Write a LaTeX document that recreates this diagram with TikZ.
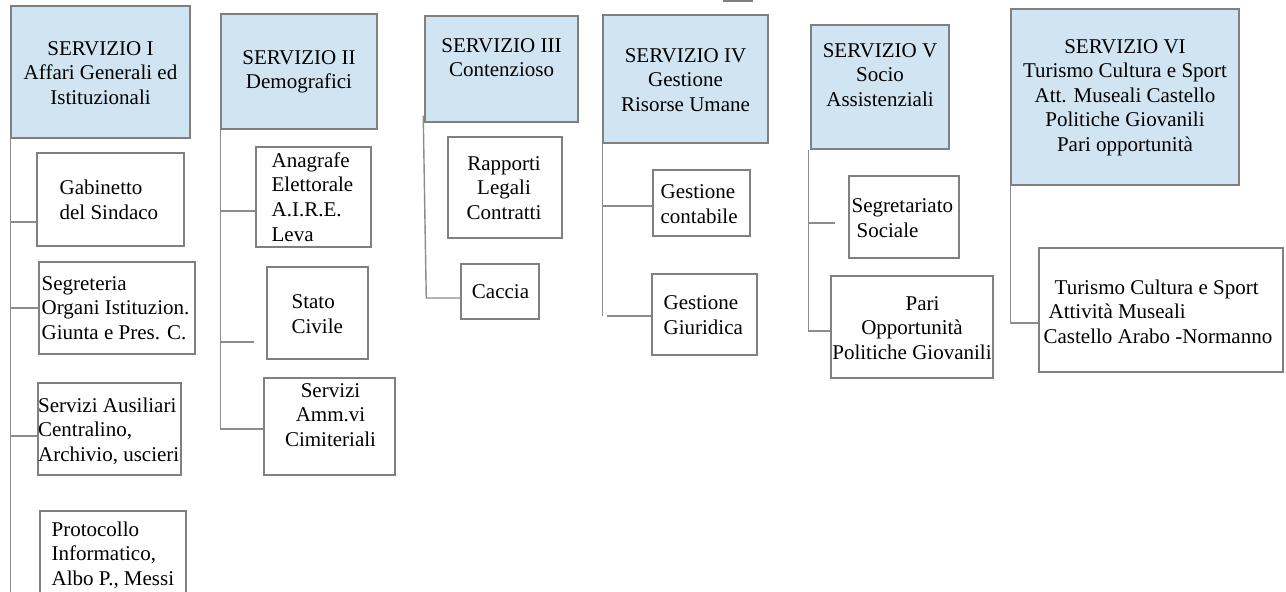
\documentclass[tikz,border=0pt]{standalone}
\usepackage{fontspec}
\setmainfont{Liberation Serif}
\usepackage{tikz}
\usetikzlibrary{calc,positioning}
\definecolor{celeste}{RGB}{208,228,242}
\definecolor{bordo}{RGB}{128,128,128}
\definecolor{filo}{RGB}{140,140,140}
\newcommand{\ramo}[4][0]{%
    \draw[linea] ($(#2.south west |- #3.west)+(0,#4)$) -- ($(#3.west)+(-#1,#4)$);
}

\begin{document}
\begin{tikzpicture}[
            x=0.5pt, y=-0.5pt,
            dim/.style 2 args = {minimum width=#1*0.5pt, minimum height=#2*0.5pt},
            casella/.style = {draw=bordo, line width=0.75pt, inner sep=0pt},
            capo/.style = {casella, fill=celeste},
            figlio/.style = {casella, fill=white},
            testo/.style = {inner sep=0pt, align=center,
                font=\fontsize{10.5}{12.3}\selectfont},
            linea/.style = {draw=filo, line width=0.7pt},
        ]
            \clip (0,0) rectangle (1286,592);
            \coordinate (fondo) at (0,592);
            % servizi
            \node[capo, dim={179}{132}] (s1) at (100.5,72) {};
            \node[testo] (s1-t) at ([shift={(0,1)}]s1.center) {SERVIZIO I\\Affari Generali ed\\Istituzionali};
            \node[capo, dim={156}{115}] (s2) at (299,71.5) {};
            \node[testo] (s2-t) at ([shift={(0,0.5)}]s2.center) {SERVIZIO II\\Demografici};
            \node[capo, dim={153}{106}] (s3) at (501.5,69) {};
            \node[testo] (s3-t) at ([shift={(0,-11.5)}]s3.center) {SERVIZIO III\\Contenzioso};
            \node[capo, dim={165}{128}] (s4) at (685.5,79) {};
            \node[testo] (s4-t) at ([shift={(0,1)}]s4.center) {SERVIZIO IV\\Gestione\\Risorse Umane};
            \node[capo, dim={138}{124}] (s5) at (880,87) {};
            \node[testo] (s5-t) at ([shift={(0,-12)}]s5.center) {SERVIZIO V\\Socio\\Assistenziali};
            \node[capo, dim={228}{176}] (s6) at (1125,97) {};
            \node[testo] (s6-t) at ([shift={(0,0.5)}]s6.center) {SERVIZIO VI\\Turismo Cultura e Sport\\Att. Museali Castello\\Politiche Giovanili\\Pari opportunità};
            % uffici
            \node[figlio, dim={147}{93}] (gab) at (110.5,199.5) {};
            \node[testo, align=left, anchor=west] (gab-t) at ([shift={(23,0.5)}]gab.west) {Gabinetto\\del Sindaco};
            \node[figlio, dim={156}{92}] (seg) at (117,308) {};
            \node[testo, align=left, anchor=west] (seg-t) at ([shift={(3,0)}]seg.west) {Segreteria\\Organi Istituzion.\\Giunta e Pres. C.};
            \node[figlio, dim={143}{92}] (aus) at (109.5,429) {};
            \node[testo, align=left, anchor=west] (aus-t) at ([shift={(0.5,2)}]aus.west) {Servizi Ausiliari\\Centralino,\\Archivio, uscieri};
            \node[figlio, dim={146}{88}] (prot) at (113,555) {};
            \node[testo, align=left, anchor=west] (prot-t) at ([shift={(12,0)}]prot.west) {Protocollo\\Informatico,\\Albo P., Messi};
            \node[figlio, dim={115}{100}] (ana) at (313.5,197) {};
            \node[testo, align=left, anchor=west] (ana-t) at ([shift={(16,0)}]ana.west) {Anagrafe\\Elettorale\\A.I.R.E.\\Leva};
            \node[figlio, dim={101}{92}] (stato) at (317.5,313) {};
            \node[testo, align=left, anchor=west] (stato-t) at ([shift={(25,1)}]stato.west) {Stato\\Civile};
            \node[figlio, dim={131}{97}] (cim) at (329.5,426.5) {};
            \node[testo] (cim-t) at ([shift={(1,-11.5)}]cim.center) {Servizi\\Amm.vi\\Cimiteriali};
            \node[figlio, dim={114}{101}] (rap) at (505,187.5) {};
            \node[testo] (rap-t) at ([shift={(-1,0.5)}]rap.center) {Rapporti\\Legali\\Contratti};
            \node[figlio, dim={78}{55}] (caccia) at (500,291.5) {};
            \node[testo] (caccia-t) at ([shift={(0.5,0.5)}]caccia.center) {Caccia};
            \node[figlio, dim={97}{66}] (gcon) at (701.5,203) {};
            \node[testo, align=left, anchor=west] (gcon-t) at ([shift={(8,1)}]gcon.west) {Gestione\\contabile};
            \node[figlio, dim={105}{81}] (ggiu) at (704.5,314.5) {};
            \node[testo, align=left, anchor=west] (ggiu-t) at ([shift={(12,0.5)}]ggiu.west) {Gestione\\Giuridica};
            \node[figlio, dim={110}{82}] (segr) at (904,217) {};
            \node[testo, align=left, anchor=west] (segr-t) at ([shift={(3,1)}]segr.west) {Segretariato\\\hspace*{2.5pt}Sociale};
            \node[figlio, dim={162}{102}] (pari) at (912,327) {};
            \node[testo] (pari-t) at ([shift={(0,1)}]pari.center) {\quad Pari\\Opportunità\\Politiche Giovanili};
            \node[figlio, dim={244}{124}] (tur) at (1161,310) {};
            \node[testo, align=left, anchor=west] (tur-t) at ([shift={(5,1.5)}]tur.west) {\hspace*{5.5pt}Turismo Cultura e Sport\\\hspace*{2.5pt}Attività Museali\\Castello Arabo -Normanno};
            % collegamenti
            \draw[linea] (s1.south west) -- (s1.south west |- fondo);
            \ramo{s1}{gab}{22.5}
            \ramo{s1}{seg}{0}
            \ramo{s1}{aus}{7}
            \draw[linea] (s2.south west) -- ($(s2.south west |- cim.west)+(0,2.5)$);
            \ramo{s2}{ana}{14}
            \ramo[12]{s2}{stato}{29}
            \ramo{s2}{cim}{2.5}
            \draw[linea] ($(s3.south west)+(-1,-7)$) -- ($(s3.south west |- caccia.west)+(2,6.5)$) -- ($(caccia.west)+(0,6.5)$);
            \draw[linea] (s4.south west) -- ($(s4.south west |- ggiu.west)+(0,1.5)$);
            \ramo{s4}{gcon}{3}
            \draw[linea] ($(s4.south west |- ggiu.west)+(5,1.5)$) -- ($(ggiu.west)+(0,1.5)$);
            \draw[linea] ($(s5.south west)+(-2,0)$) -- ($(s5.south west |- pari.west)+(-2,4)$);
            \draw[linea] ($(s5.south west |- segr.west)+(-2,6)$) -- ($(segr.west)+(-13,6)$);
            \draw[linea] ($(s5.south west |- pari.west)+(-2,4)$) -- ($(pari.west)+(0,4)$);
            \draw[linea] (s6.south west) -- ($(s6.south west |- tur.west)+(0,13)$);
            \ramo{s6}{tur}{13}
            \draw[draw=bordo, line width=0.75pt] (724,-6) rectangle (752,1);
        \end{tikzpicture}
\end{document}
